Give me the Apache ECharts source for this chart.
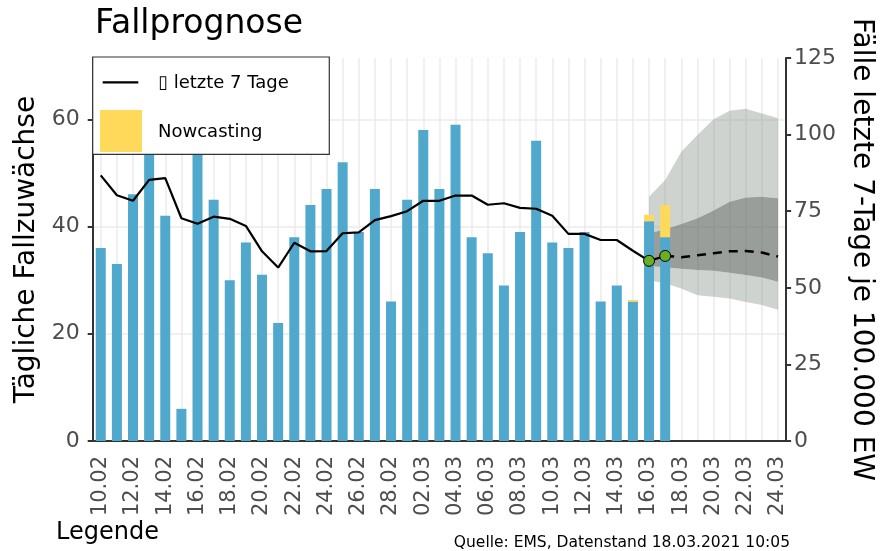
<!DOCTYPE html>
<html>
<head>
<meta charset="utf-8">
<title>Fallprognose</title>
<script src="https://cdn.jsdelivr.net/npm/echarts@6/dist/echarts.min.js"></script>
<style>
    html, body { margin: 0; padding: 0; background: #fff; }
    #chart { width: 883px; height: 551px; }
</style>
</head>
<body>
<div id="chart"></div>
<script>
// Tage auf der x-Achse
const days = ['10.02', '11.02', '12.02', '13.02', '14.02', '15.02', '16.02', '17.02', '18.02', '19.02',
    '20.02', '21.02', '22.02', '23.02', '24.02', '25.02', '26.02', '27.02', '28.02', '01.03',
    '02.03', '03.03', '04.03', '05.03', '06.03', '07.03', '08.03', '09.03', '10.03', '11.03',
    '12.03', '13.03', '14.03', '15.03', '16.03', '17.03', '18.03', '19.03', '20.03', '21.03',
    '22.03', '23.03', '24.03']

// tägliche Fälle (10.02 - 17.03)
const dailyCases = [36, 33, 46, 57, 42, 6, 56, 45, 30, 37, 31, 22, 38, 44, 47, 52, 39, 47, 26,
    45, 58, 47, 59, 38, 35, 29, 39, 56, 37, 36, 39, 26, 29, 26, 41, 38]
const nowcast = [0, 0, 0, 0, 0, 0, 0, 0, 0, 0, 0, 0, 0, 0, 0, 0, 0, 0, 0,
    0, 0, 0, 0, 0, 0, 0, 0, 0, 0, 0, 0, 0, 0, 0.3, 1.2, 6]

// 7-Tage-Inzidenz (10.02 - 17.03)
const incidence = [86.7, 80.2, 78.4, 85.2, 85.8, 72.7, 70.9, 73.2, 72.5, 70.2, 61.9, 56.6, 64.7,
    61.9, 62.0, 67.8, 68.1, 72.1, 73.4, 75.0, 78.4, 78.4, 80.1, 80.1, 77.1, 77.6, 76.1, 75.8,
    73.5, 67.6, 67.6, 65.6, 65.6, 62.1, 58.8, 60.4]
// Prognose ab 17.03
const forecastStart = 35
const forecast = [60.4, 60.0, 60.6, 61.3, 61.9, 62.0, 61.5, 60.2]
// Prognosebänder ab 16.03
const bandStart = 34
const outerLow = [52.5, 51.5, 49.8, 47.6, 47.1, 46.5, 45.4, 44.4, 42.8]
const innerLow = [57.1, 56.7, 56.2, 55.8, 55.6, 54.9, 54.2, 53.4, 52.0]
const innerHigh = [67.8, 69.1, 70.8, 72.7, 75.2, 78.1, 79.5, 79.7, 79.2]
const outerHigh = [79.7, 85.2, 94.4, 99.9, 105.0, 107.8, 108.4, 106.9, 105.3]
// Punkte mit Nowcasting
const nowcastPoints = [34, 35]

const leftTicks = [0, 20, 40, 60]

const FONT = '"DejaVu Sans", sans-serif'
const lightBand = 'rgba(140,150,143,0.42)'
const darkBand = 'rgba(92,99,94,0.62)'

function pad(start, arr) {
    const out = days.map(() => null)
    arr.forEach((v, i) => { out[start + i] = v })
    return out
}
function diff(a, b) {
    return a.map((v, i) => +(v - b[i]).toFixed(2))
}

const myChart = echarts.init(document.getElementById('chart'))

const bandSeries = (name, data, color) => ({
    name: name,
    type: 'line',
    yAxisIndex: 1,
    stack: 'band',
    symbol: 'none',
    silent: true,
    z: 1,
    lineStyle: { width: 0, opacity: 0 },
    areaStyle: color ? { color: color, opacity: 1 } : undefined,
    data: pad(bandStart, data)
})

const option = {
    animation: false,
    textStyle: { fontFamily: FONT },
    title: {
        text: 'Fallprognose',
        left: 90,
        top: 3,
        textStyle: { fontFamily: FONT, fontSize: 33, fontWeight: 'normal', color: '#000' }
    },
    grid: { left: 92.7, right: 92.3, top: 58, bottom: 110 },
    xAxis: {
        type: 'category',
        data: days,
        boundaryGap: true,
        axisLine: { lineStyle: { color: '#333', width: 2 } },
        axisTick: { interval: 1, alignWithLabel: true, length: 5, lineStyle: { color: '#333', width: 2 } },
        axisLabel: { interval: 1, rotate: 90, margin: 15, color: '#4d4d4d', fontSize: 21, fontFamily: FONT },
        splitLine: { show: true, interval: 0, alignWithLabel: true, lineStyle: { color: '#ebebeb', width: 1.5 } }
    },
    yAxis: [{
        type: 'value',
        min: 0,
        max: 125 / 1.75,
        interval: 10,
        name: 'Tägliche Fallzuwächse',
        nameLocation: 'middle',
        nameGap: 50,
        nameTextStyle: { fontFamily: FONT, fontSize: 28, color: '#000' },
        axisLine: { show: true, lineStyle: { color: '#333', width: 2 } },
        axisTick: { show: true, customValues: leftTicks, length: 5, lineStyle: { color: '#333', width: 2 } },
        axisLabel: { customValues: leftTicks, margin: 13, color: '#4d4d4d', fontSize: 22, fontFamily: FONT },
        splitLine: { lineStyle: { color: '#ebebeb', width: 1.5 } }
    }, {
        type: 'value',
        min: 0,
        max: 125,
        interval: 25,
        position: 'right',
        name: 'Fälle letzte 7-Tage je 100.000 EW',
        nameLocation: 'middle',
        nameRotate: -90,
        nameGap: 60,
        nameTextStyle: { fontFamily: FONT, fontSize: 28, color: '#000' },
        axisLine: { show: true, lineStyle: { color: '#333', width: 2 } },
        axisTick: { show: true, length: 5, lineStyle: { color: '#333', width: 2 } },
        axisLabel: { margin: 8, color: '#4d4d4d', fontSize: 22, fontFamily: FONT },
        splitLine: { show: false }
    }],
    series: [
        bandSeries('outerLow', outerLow, null),
        bandSeries('band1', diff(innerLow, outerLow), lightBand),
        bandSeries('band2', diff(innerHigh, innerLow), darkBand),
        bandSeries('band3', diff(outerHigh, innerHigh), lightBand),
        {
            name: 'Fälle',
            type: 'bar',
            stack: 'cases',
            barWidth: 10,
            z: 2,
            itemStyle: { color: '#50a9cc' },
            data: dailyCases
        },
        {
            name: 'Nowcasting',
            type: 'bar',
            stack: 'cases',
            barWidth: 10,
            z: 2,
            itemStyle: { color: '#ffd95a' },
            data: nowcast
        },
        {
            name: '\u25AF letzte 7 Tage',
            type: 'line',
            yAxisIndex: 1,
            symbol: 'none',
            z: 3,
            lineStyle: { color: '#000', width: 2.2 },
            data: incidence
        },
        {
            name: 'Prognose',
            type: 'line',
            yAxisIndex: 1,
            symbol: 'none',
            z: 3,
            lineStyle: { color: '#000', width: 2.5, type: [9, 7] },
            data: pad(forecastStart, forecast)
        },
        {
            name: 'Nowcast-Punkte',
            type: 'scatter',
            yAxisIndex: 1,
            symbolSize: 11,
            z: 4,
            itemStyle: { color: '#6aaf23', borderColor: '#000', borderWidth: 1, opacity: 1 },
            data: nowcastPoints.map(i => [i, incidence[i]])
        }
    ],
    graphic: [
        { type: 'rect', z: 100, shape: { x: 92.7, y: 57, width: 236.6, height: 97.3 },
          style: { fill: '#fff', stroke: '#333', lineWidth: 1.2 } },
        { type: 'line', z: 101, shape: { x1: 102.7, y1: 82.3, x2: 138.3, y2: 82.3 },
          style: { stroke: '#000', lineWidth: 2.2 } },
        { type: 'text', z: 101, x: 158, y: 83,
          style: { text: '\u25AF letzte 7 Tage', font: '18px ' + FONT, fill: '#000', verticalAlign: 'middle' } },
        { type: 'rect', z: 101, shape: { x: 100, y: 110, width: 42, height: 42 },
          style: { fill: '#ffd95a' } },
        { type: 'text', z: 101, x: 158, y: 132.7,
          style: { text: 'Nowcasting', font: '18px ' + FONT, fill: '#000', verticalAlign: 'middle' } },
        { type: 'text', left: 56, top: 521,
          style: { text: 'Legende', font: '24px ' + FONT, fill: '#000' } },
        { type: 'text', right: 93, top: 535,
          style: { text: 'Quelle: EMS, Datenstand 18.03.2021 10:05', font: '15.5px ' + FONT, fill: '#000' } }
    ]
}

myChart.setOption(option)
window.addEventListener('resize', () => {
    myChart && myChart.resize()
})
</script>
</body>
</html>
